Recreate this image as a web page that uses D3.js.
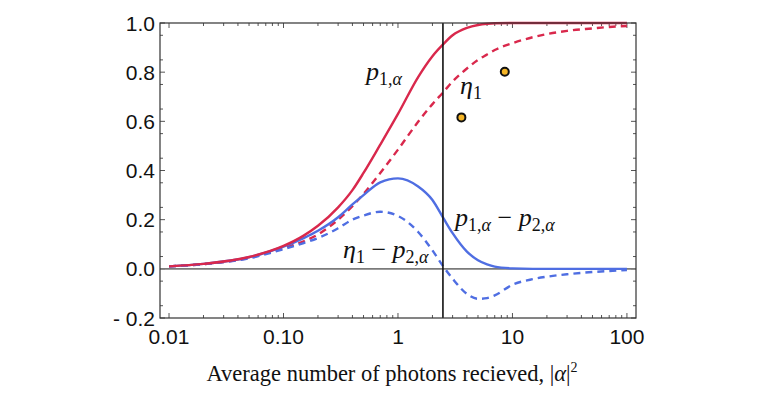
<!DOCTYPE html>
<html>
<head>
<meta charset="utf-8">
<script src="https://cdn.jsdelivr.net/npm/d3@7"></script>
<style>
  body { margin: 0; background: #fff; }
  svg text { fill: #111; }
</style>
</head>
<body>
<div class="chart"></div>
<script>
const color_red = "#d9284c";
const color_blue = "#4f6ee2";
const sansFont = "'Liberation Sans', Arial, sans-serif";
const serifFont = "'Liberation Serif', 'Times New Roman', serif";

// photon numbers where curves were read
var photons = [0.01, 0.02, 0.05, 0.1, 0.15, 0.2, 0.3, 0.4, 0.5, 0.7, 1, 1.5, 2, 2.5, 3, 4, 5, 6, 7, 10, 15, 20, 30, 50, 70, 100];
var p1 = [0.01, 0.02, 0.048, 0.093, 0.135, 0.175, 0.25, 0.32, 0.39, 0.505, 0.63, 0.78, 0.865, 0.915, 0.95, 0.98, 0.992, 0.997, 0.999, 1, 1, 1, 1, 1, 1, 1];
var eta1 = [0.01, 0.019, 0.045, 0.085, 0.112, 0.14, 0.2, 0.255, 0.305, 0.39, 0.485, 0.598, 0.67, 0.72, 0.762, 0.815, 0.85, 0.872, 0.89, 0.918, 0.942, 0.955, 0.968, 0.978, 0.984, 0.988];
var p1MinusP2 = [0.01, 0.02, 0.047, 0.09, 0.125, 0.155, 0.21, 0.262, 0.3, 0.352, 0.368, 0.335, 0.28, 0.205, 0.145, 0.07, 0.035, 0.018, 0.009, 0.002, 0, 0, 0, 0, 0, 0];
var eta1MinusP2 = [0.01, 0.019, 0.043, 0.08, 0.105, 0.125, 0.165, 0.2, 0.217, 0.232, 0.215, 0.15, 0.075, 0.008, -0.04, -0.102, -0.122, -0.119, -0.108, -0.065, -0.042, -0.032, -0.022, -0.013, -0.009, -0.005];
// measured points
var pointsX = [3.58, 8.57];
var pointsY = [0.616, 0.802];
var markerX = 2.47; // vertical line
var yTicks = [-0.2, 0, 0.2, 0.4, 0.6, 0.8, 1.0];
var yTickLabels = ["- 0.2", "0.0", "0.2", "0.4", "0.6", "0.8", "1.0"];
var xTicks = [0.01, 0.1, 1, 10, 100];
var xTickLabels = ["0.01", "0.10", "1", "10", "100"];

var w = 782, h = 394;
var pLeft = 160, pRight = 636, pTop = 23, pBottom = 318; // plot frame

var svg = d3.select(".chart").append("svg")
    .attr("width", w)
    .attr("height", h);

var xScale = d3.scaleLog()
    .domain([0.00834, 120])
    .range([pLeft, pRight]);
var yScale = d3.scaleLinear()
    .domain([-0.2, 1.0])
    .range([pBottom, pTop]);

// minor ticks: 2..9 per decade on x, every 0.05 on y
var xMinor = [];
for (let d = -2; d <= 2; d++) {
    for (let k = 2; k <= 9; k++) {
        var v = k * Math.pow(10, d);
        if (v < 120) xMinor.push(v);
    }
}
var yMinor = d3.range(-0.2, 1.0001, 0.05).filter(v => Math.abs(Math.round(v * 10) / 10 - v) > 0.01);

var tickColor = "#555";
var frame = svg.append("g");
// ticks on all four sides, pointing inwards
function ticksX(vals, len) {
    vals.forEach(function(v) {
        var x = xScale(v);
        frame.append("line").attr("x1", x).attr("x2", x).attr("y1", pBottom).attr("y2", pBottom - len)
            .attr("stroke", tickColor).attr("stroke-width", 1);
        frame.append("line").attr("x1", x).attr("x2", x).attr("y1", pTop).attr("y2", pTop + len)
            .attr("stroke", tickColor).attr("stroke-width", 1);
    });
}
function ticksY(vals, len) {
    vals.forEach(function(v) {
        var y = yScale(v);
        frame.append("line").attr("x1", pLeft).attr("x2", pLeft + len).attr("y1", y).attr("y2", y)
            .attr("stroke", tickColor).attr("stroke-width", 1);
        frame.append("line").attr("x1", pRight).attr("x2", pRight - len).attr("y1", y).attr("y2", y)
            .attr("stroke", tickColor).attr("stroke-width", 1);
    });
}
ticksX(xTicks, 5);
ticksX(xMinor, 3);
ticksY(yTicks, 5);
ticksY(yMinor, 3);

// tick labels
svg.selectAll(".ylab")
    .data(yTicks)
    .enter()
    .append("text")
    .attr("class", "ylab")
    .attr("x", pLeft - 5)
    .attr("y", d => yScale(d))
    .attr("dy", "0.36em")
    .attr("text-anchor", "end")
    .style("font-family", sansFont)
    .attr("font-size", 21)
    .text((d, i) => yTickLabels[i]);

svg.selectAll(".xlab")
    .data(xTicks)
    .enter()
    .append("text")
    .attr("class", "xlab")
    .attr("x", d => xScale(d))
    .attr("y", 344)
    .attr("text-anchor", "middle")
    .style("font-family", sansFont)
    .attr("font-size", 21)
    .text((d, i) => xTickLabels[i]);

// zero line
svg.append("line")
    .attr("x1", pLeft).attr("x2", pRight)
    .attr("y1", yScale(0)).attr("y2", yScale(0))
    .attr("stroke", "#7a7a7a").attr("stroke-width", 1.6);

var line = d3.line()
    .x(d => xScale(d[0]))
    .y(d => yScale(d[1]))
    .curve(d3.curveMonotoneX);

function drawCurve(values, color, dashed) {
    var path = svg.append("path")
        .datum(photons.map((t, i) => [t, values[i]]))
        .attr("d", line)
        .attr("fill", "none")
        .attr("stroke", color)
        .attr("stroke-width", 2.4);
    if (dashed) path.attr("stroke-dasharray", "7,5");
}
drawCurve(eta1, color_red, true);
drawCurve(eta1MinusP2, color_blue, true);
drawCurve(p1MinusP2, color_blue, false);
drawCurve(p1, color_red, false);

svg.append("line") //marker line
    .attr("x1", xScale(markerX)).attr("x2", xScale(markerX))
    .attr("y1", pTop).attr("y2", pBottom)
    .attr("stroke", "#111").attr("stroke-width", 1.6);

// frame
svg.append("rect")
    .attr("x", pLeft).attr("y", pTop)
    .attr("width", pRight - pLeft).attr("height", pBottom - pTop)
    .attr("fill", "none")
    .attr("stroke", "#333")
    .attr("stroke-width", 1.2);

// measured points
svg.selectAll(".pt")
    .data(pointsX)
    .enter()
    .append("circle")
    .attr("class", "pt")
    .attr("cx", d => xScale(d))
    .attr("cy", (d, i) => yScale(pointsY[i]))
    .attr("r", 4)
    .attr("fill", "#f5b526")
    .attr("stroke", "#111")
    .attr("stroke-width", 2);

// math labels: parts of [text, italic, subscript]
function mathLabel(x, y, parts) {
    var t = svg.append("text")
        .attr("x", x).attr("y", y)
        .style("font-family", serifFont)
        .attr("font-size", 26);
    var isSub = false;
    parts.forEach(function(p) {
        var s = t.append("tspan").text(p[0]);
        if (p[1]) s.attr("font-style", "italic");
        if (p[2]) {
            s.attr("font-size", 18);
            if (!isSub) s.attr("dy", 5);
        } else if (isSub) {
            s.attr("dy", -5);
        }
        isSub = p[2];
    });
    return t;
}
mathLabel(366, 80, [["p", true, false], ["1,", false, true], ["α", true, true]]);
mathLabel(460, 94, [["η", true, false], ["1", false, true]]);
mathLabel(455, 226, [["p", true, false], ["1,", false, true], ["α", true, true], [" − ", false, false], ["p", true, false], ["2,", false, true], ["α", true, true]]);
mathLabel(343, 258, [["η", true, false], ["1", false, true], [" − ", false, false], ["p", true, false], ["2,", false, true], ["α", true, true]]);

// axis title
var title = svg.append("text")
    .attr("x", 392)
    .attr("y", 381)
    .attr("text-anchor", "middle")
    .style("font-family", serifFont)
    .attr("font-size", 22.5);
title.append("tspan").text("Average number of photons recieved, |");
title.append("tspan").attr("font-style", "italic").text("α");
title.append("tspan").text("|");
title.append("tspan").attr("font-size", 14).attr("dy", -9).text("2");
</script>
</body>
</html>
